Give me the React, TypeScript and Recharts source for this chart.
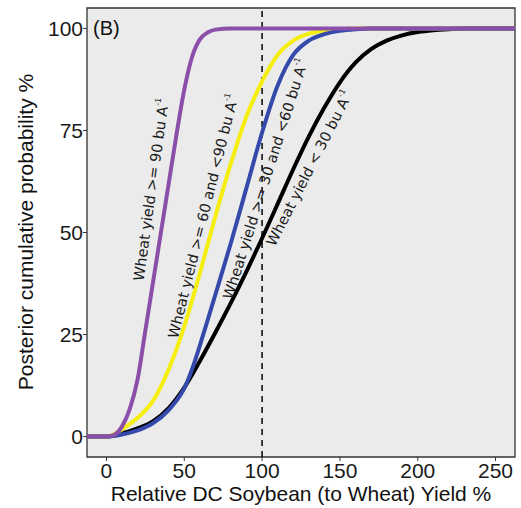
import { LineChart, Line, XAxis, YAxis, ReferenceArea, ReferenceLine, ReferenceDot } from "recharts";

// tick labels
const xTicks = [0, 50, 100, 150, 200, 250];
const yTicks = [0, 25, 50, 75, 100];

// cumulative curves (x = relative yield %, y = probability %)
const purpleX = [-12.5, 0, 5, 10, 15, 20, 25, 30, 35, 40, 45, 50, 55, 60, 65, 70, 80, 250, 262.5];
const purpleY = [0, 0, 0.4, 2.5, 6.8, 14, 26, 38, 50, 62, 74, 85, 93, 97.3, 99, 99.7, 100, 100, 100];

const yellowX = [-12.5, 0, 5, 10, 20, 30, 40, 50, 60, 70, 80, 90, 100, 110, 120, 130, 140, 150, 160, 250, 262.5];
const yellowY = [0, 0, 0.6, 1.8, 4.6, 8.8, 16.5, 27, 40, 54, 67, 78.5, 87, 93.5, 97, 98.7, 99.4, 99.8, 100, 100, 100];

const blueX = [-12.5, 0, 10, 20, 30, 40, 45, 50, 55, 60, 65, 70, 80, 90, 100, 110, 120, 130, 140, 150, 160, 170, 250, 262.5];
const blueY = [0, 0, 0.5, 1.5, 3.3, 6.5, 8.8, 11.8, 16.5, 22.3, 28.5, 34.8, 47.5, 61, 74.5, 86, 93.5, 97, 98.6, 99.4, 99.8, 100, 100, 100];

const blackX = [-12.5, 0, 10, 20, 30, 40, 50, 60, 70, 80, 90, 100, 110, 120, 130, 140, 150, 160, 170, 180, 190, 200, 210, 220, 230, 240, 250, 262.5];
const blackY = [0, 0, 0.8, 2, 3.8, 7, 12, 18.5, 25.5, 32.8, 40.5, 48.6, 57, 65.5, 73.5, 80.6, 86.8, 91.6, 94.9, 97, 98.3, 99.1, 99.55, 99.8, 99.95, 100, 100, 100];

// curve labels
const labelText = ["Wheat yield >= 90 bu A", "Wheat yield >= 60 and <90 bu A", "Wheat yield >= 30 and <60 bu A", "Wheat yield < 30 bu A"];
const labelX = [28.8, 62.2, 102.2, 130.4];
const labelY = [60.5, 54, 63.1, 65.7];
const labelAngle = [-82, -76, -72.4, -63];

const makeRows = (xs: number[], ys: number[]) => xs.map((x, i) => ({ x, y: ys[i] }));

const series = [
  { name: "lt30", color: "#000000", rows: makeRows(blackX, blackY) },
  { name: "60to90", color: "#F5EE10", rows: makeRows(yellowX, yellowY) },
  { name: "30to60", color: "#3449AA", rows: makeRows(blueX, blueY) },
  { name: "ge90", color: "#8C4FA9", rows: makeRows(purpleX, purpleY) },
];

const axisFont = "'Liberation Sans', Arial, sans-serif";
const tickStyle = { fontSize: 21, fill: "#1a1a1a", fontFamily: axisFont };

function CurveLabel(props: any) {
  const { cx, cy, text, angle } = props;
  return (
    <text
      x={cx}
      y={cy}
      transform={`rotate(${angle} ${cx} ${cy})`}
      textAnchor="middle"
      dominantBaseline="central"
      fontFamily="'DejaVu Sans', sans-serif"
      fontSize={14.5}
      fill="#1a1a1a"
    >
      {text}
      <tspan dy={-6} fontSize={8}>-1</tspan>
    </text>
  );
}

export default function App() {
  return (
    <div style={{ position: "absolute", left: 0, top: 0 }}>
      <LineChart width={521} height={508} margin={{ top: 8, right: 6, bottom: 0, left: 0 }}>
        <XAxis
          type="number"
          dataKey="x"
          domain={[-12.5, 262.5]}
          ticks={xTicks}
          allowDataOverflow
          height={51}
          tick={tickStyle}
          tickSize={4}
          tickLine={{ stroke: "#333" }}
          axisLine={false}
          label={{
            content: () => (
              <text x={301} y={493} textAnchor="middle" dominantBaseline="central" fontSize={21} fontFamily={axisFont} fill="#111">
                Relative DC Soybean (to Wheat) Yield %
              </text>
            ),
          }}
        />
        <YAxis
          type="number"
          dataKey="y"
          domain={[-5, 105]}
          ticks={yTicks}
          allowDataOverflow
          width={87}
          tick={tickStyle}
          tickSize={4}
          tickMargin={0}
          tickLine={{ stroke: "#333" }}
          axisLine={false}
          label={{
            content: () => (
              <text x={25} y={232} transform="rotate(-90 25 232)" textAnchor="middle" dominantBaseline="central" fontSize={21} fontFamily={axisFont} fill="#111">
                Posterior cumulative probability %
              </text>
            ),
          }}
        />
        <ReferenceArea x1={-12.5} x2={262.5} y1={-5} y2={105} fill="#EBEBEB" fillOpacity={1} stroke="#333" strokeWidth={1.3} />
        <ReferenceLine x={100} stroke="#111" strokeWidth={1.6} strokeDasharray="6 5" />
        {series.map((s) => (
          <Line
            key={s.name}
            data={s.rows}
            dataKey="y"
            type="monotone"
            stroke={s.color}
            strokeWidth={4}
            dot={false}
            isAnimationActive={false}
          />
        ))}
        {labelText.map((t, i) => (
          <ReferenceDot
            key={t}
            x={labelX[i]}
            y={labelY[i]}
            r={0}
            shape={(p: any) => <CurveLabel {...p} text={t} angle={labelAngle[i]} />}
          />
        ))}
        <ReferenceDot
          x={-12.5}
          y={105}
          r={0}
          shape={(p: any) => (
            <text x={p.cx + 6} y={p.cy + 20} fontSize={20} fontFamily={axisFont} fill="#111" dominantBaseline="central">
              (B)
            </text>
          )}
        />
      </LineChart>
    </div>
  );
}
